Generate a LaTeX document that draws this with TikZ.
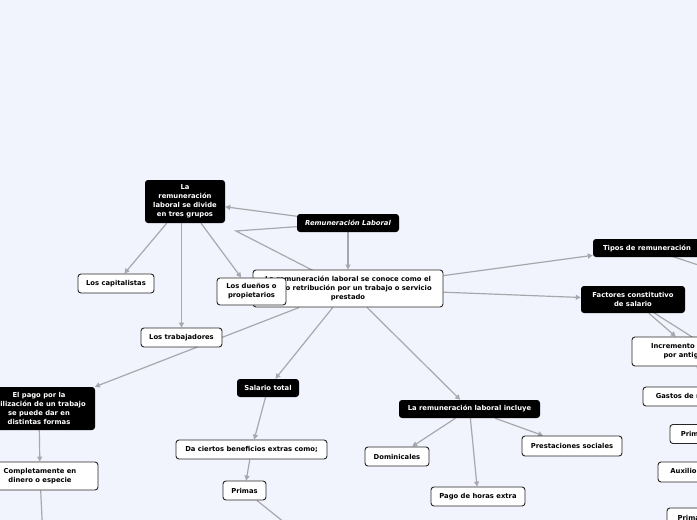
\documentclass[tikz,border=0pt]{standalone}
\usepackage{fontspec}
\setmainfont{DejaVu Sans}
\usetikzlibrary{arrows.meta}
\definecolor{fondo}{RGB}{241,244,253}
\definecolor{linea}{RGB}{168,168,172}
\pgfdeclarelayer{fondo}
\pgfdeclarelayer{lineas}
\pgfsetlayers{fondo,lineas,main}
\tikzset{
  texto/.style={font=\bfseries\fontsize{6.8}{9}\selectfont,align=center,inner sep=0pt,rounded corners=3pt},
  negro/.style={texto,fill=black,text=white},
  blanco/.style={texto,fill=white,draw=black!85,line width=0.9pt},
  flecha/.style={draw=linea,line width=1.2pt,-{Triangle[length=5pt,width=5pt]}},
  liga/.style={draw=linea,line width=1.2pt}
}
\begin{document}
\begin{tikzpicture}[x=1pt,y=-1pt]
\useasboundingbox (0,0) rectangle (697,520);
\begin{pgfonlayer}{fondo}
\fill[fondo] (0,0) rectangle (697,520);
\end{pgfonlayer}

\node[negro,minimum width=80pt,minimum height=43pt] (grupos) at (185,201.5) {La\\remuneración\\laboral se divide\\en tres grupos};
\node[negro,minimum width=102pt,minimum height=18pt,font=\bfseries\itshape\fontsize{6.8}{9}\selectfont] (rl) at (348,223) {Remuneración Laboral};
\node[blanco,minimum width=190pt,minimum height=37pt] (main) at (348,288.5) {La remuneración laboral se conoce como el\\pago o retribución por un trabajo o servicio\\prestado};
\node[blanco,minimum width=76pt,minimum height=19pt] (capitalistas) at (116,283.5) {Los capitalistas};
\node[blanco,minimum width=81pt,minimum height=19pt] (trabajadores) at (181.5,337.5) {Los trabajadores};
\node[blanco,minimum width=69pt,minimum height=27pt] (duenos) at (251.5,291.5) {Los dueños o\\propietarios};

\node[negro,minimum width=108pt,minimum height=18pt] (tipos) at (647,248) {Tipos de remuneración};
\node[negro,minimum width=104pt,minimum height=27pt] (factores) at (633,299.5) {Factores constitutivo\\de salario};
\node[blanco,minimum width=122pt,minimum height=29pt] (incremento) at (693,351.5) {Incremento de salario\\por antigüedad};
\node[blanco,minimum width=124pt,minimum height=19pt] (gastos) at (705,396.5) {Gastos de representación};
\node[blanco,minimum width=92pt,minimum height=19pt] (prima1) at (716,434) {Prima de servicios};
\node[blanco,minimum width=106pt,minimum height=20pt] (auxilio) at (711,472) {Auxilio de transporte};
\node[blanco,minimum width=100pt,minimum height=20pt] (prima2) at (717,518) {Prima de vacaciones};

\node[negro,minimum width=62pt,minimum height=18pt] (salario) at (268,388) {Salario total};
\node[blanco,minimum width=151pt,minimum height=19pt] (beneficios) at (251.5,449.5) {Da ciertos beneficios extras como;};
\node[blanco,minimum width=43pt,minimum height=19pt] (primas) at (244.5,490.5) {Primas};

\node[negro,minimum width=112pt,minimum height=43pt] (pago) at (39,408.5) {El pago por la\\utilización de un trabajo\\se puede dar en\\distintas formas};
\node[blanco,minimum width=116pt,minimum height=28pt] (dinero) at (40,476) {Completamente en\\dinero o especie};

\node[negro,minimum width=141pt,minimum height=18pt] (incluye) at (469.5,409) {La remuneración laboral incluye};
\node[blanco,minimum width=64pt,minimum height=19pt] (dominicales) at (397,456.5) {Dominicales};
\node[blanco,minimum width=94pt,minimum height=19pt] (horas) at (478,496.5) {Pago de horas extra};
\node[blanco,minimum width=100pt,minimum height=20pt] (prestaciones) at (572,446) {Prestaciones sociales};

\coordinate (codo) at (236,231);
\coordinate (t1) at (760,285.5);
\coordinate (t2) at (760,266);
\coordinate (f1) at (760,380);
\coordinate (d1) at (44,560);
\coordinate (p1) at (320,551);

\begin{pgfonlayer}{lineas}
\draw[flecha] (rl) -- (grupos);
\draw[flecha] (rl) -- (main);
\draw[liga] (rl.center) -- (codo) -- (main.center);
\draw[flecha] (grupos) -- (capitalistas);
\draw[flecha] (grupos.south -| trabajadores) -- (trabajadores);
\draw[flecha] (grupos) -- (duenos);
\draw[flecha] (main) -- (tipos);
\draw[flecha] (main) -- (factores);
\draw[flecha] (main) -- (salario);
\draw[flecha] (main) -- (incluye);
\draw[flecha] (main) -- (pago);
\draw[liga] (tipos.center) -- (t1);
\draw[liga] (tipos.center) -- (t2);
\draw[flecha] (factores) -- (incremento);
\draw[liga] (factores.center) -- (f1);
\draw[flecha] (incremento) -- (gastos);
\draw[flecha] (salario) -- (beneficios);
\draw[flecha] (beneficios) -- (primas);
\draw[liga] (primas) -- (p1);
\draw[flecha] (pago) -- (dinero);
\draw[liga] (dinero) -- (d1);
\draw[flecha] (incluye) -- (dominicales);
\draw[flecha] (incluye) -- (horas);
\draw[flecha] (incluye) -- (prestaciones);
\end{pgfonlayer}
\end{tikzpicture}
\end{document}
